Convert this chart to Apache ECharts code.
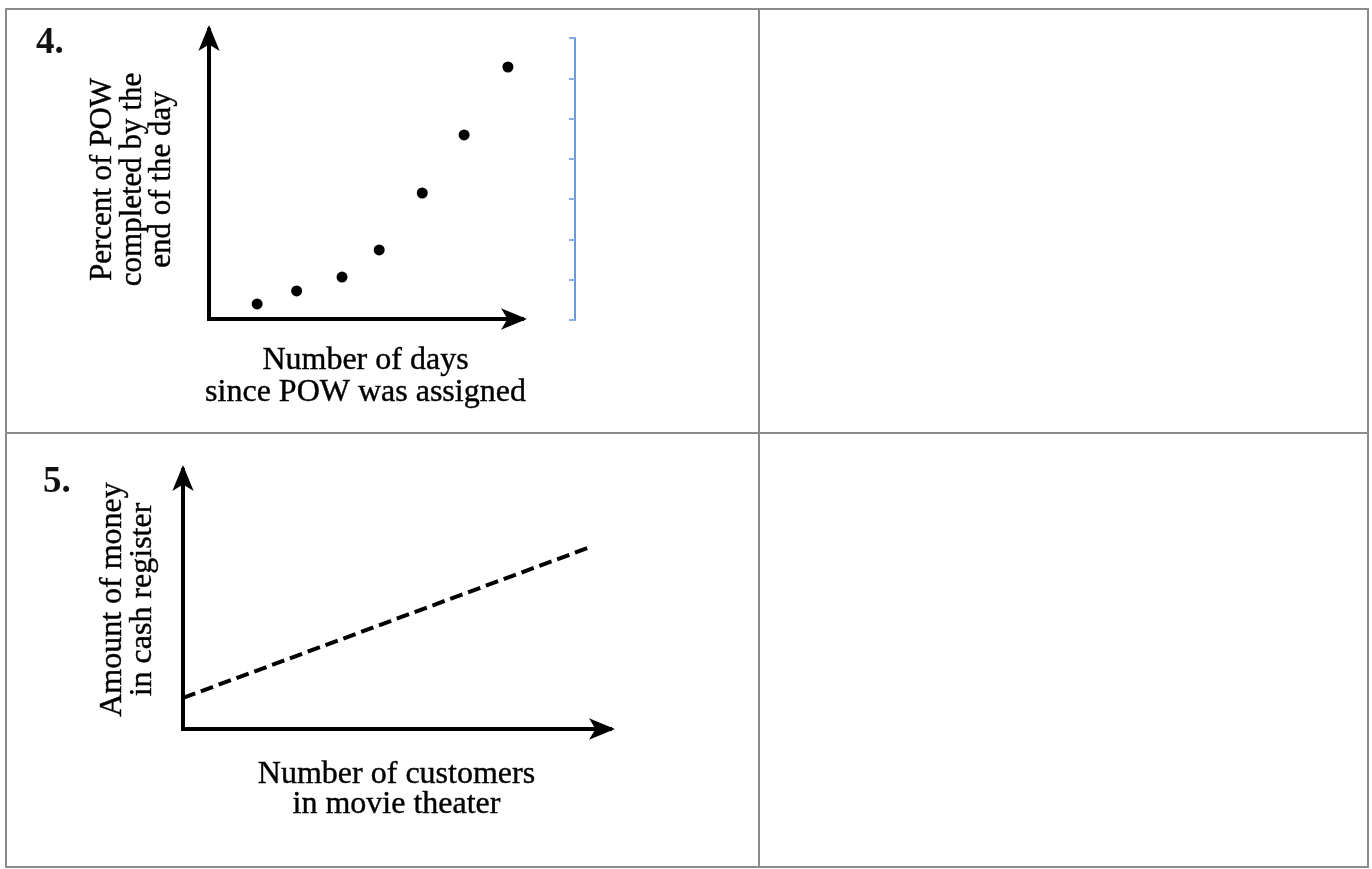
<!DOCTYPE html>
<html>
<head>
<meta charset="utf-8">
<script src="https://cdn.jsdelivr.net/npm/echarts@6/dist/echarts.min.js"></script>
<style>
html,body{margin:0;padding:0;background:#fff;}
#chart{width:1372px;height:869px;}
</style>
</head>
<body>
<div id="chart"></div>
<script>
// ---- Data ----
const problemLabels = ['4.', '5.'];
// Problem 4: days since POW assigned vs percent completed
const powDays = [1.23, 2.24, 3.40, 4.35, 5.45, 6.52, 7.64];
const powPercent = [5.2, 9.7, 14.5, 23.9, 43.6, 63.7, 87.2];
const powXName = 'Number of days\nsince POW was assigned';
const powYName = 'Percent of POW\ncompleted by the\nend of the day';
// Problem 5: customers vs money (dashed line)
const theaterCustomers = [0, 94.8];
const theaterMoney = [12.0, 69.9];
const theaterXName = 'Number of customers\nin movie theater';
const theaterYName = 'Amount of money\nin cash register';
// Blue bracket scale ticks
const bracketMin = 0, bracketMax = 7, bracketStep = 1;

const FONT = 'Liberation Serif';
const chart = echarts.init(document.getElementById('chart'), null, {renderer: 'canvas'});

function arrowAxisLine() {
  return {
    show: true,
    onZero: false,
    symbol: ['none', 'arrow'],
    symbolSize: [16, 26],
    symbolOffset: [0, 5],
    lineStyle: {color: '#000', width: 4, cap: 'square'}
  };
}
const nameStyle = {fontFamily: FONT, fontSize: 32, color: '#000', textBorderColor: '#000', textBorderWidth: 0.4};

const borderColor = '#8c8c8c';
function hLine(y, x1, x2) {
  return {type: 'line', shape: {x1: x1, y1: y, x2: x2, y2: y}, style: {stroke: borderColor, lineWidth: 2}, silent: true};
}
function vLine(x, y1, y2) {
  return {type: 'line', shape: {x1: x, y1: y1, x2: x, y2: y2}, style: {stroke: borderColor, lineWidth: 2}, silent: true};
}
const numStyle = {fontFamily: FONT, fontWeight: 'bold', fontSize: 37, color: '#111'};

const option = {
  backgroundColor: '#fff',
  animation: false,
  title: [
    {text: problemLabels[0], left: 31, top: 20, textStyle: numStyle},
    {text: problemLabels[1], left: 38, top: 459, textStyle: numStyle}
  ],
  graphic: [
    hLine(9, 5, 1369), hLine(433, 5, 1369), hLine(867, 5, 1369),
    vLine(6, 8, 868), vLine(759, 8, 868), vLine(1368, 8, 868)
  ],
  grid: [
    {left: 209, top: 30, width: 313, height: 289},
    {left: 183, top: 470, width: 427, height: 259},
    {left: 569, top: 38, width: 6, height: 282}
  ],
  xAxis: [
    {gridIndex: 0, type: 'value', min: 0, max: 8,
     axisLine: arrowAxisLine(), axisTick: {show: false}, axisLabel: {show: false}, splitLine: {show: false},
     name: powXName, nameLocation: 'middle', nameGap: 26, nameTextStyle: Object.assign({}, nameStyle, {lineHeight: 32})},
    {gridIndex: 1, type: 'value', min: 0, max: 100,
     axisLine: arrowAxisLine(), axisTick: {show: false}, axisLabel: {show: false}, splitLine: {show: false},
     name: theaterXName, nameLocation: 'middle', nameGap: 31, nameTextStyle: Object.assign({}, nameStyle, {lineHeight: 30})},
    {gridIndex: 2, type: 'value', min: 0, max: 1, show: false}
  ],
  yAxis: [
    {gridIndex: 0, type: 'value', min: 0, max: 100,
     axisLine: arrowAxisLine(), axisTick: {show: false}, axisLabel: {show: false}, splitLine: {show: false},
     name: powYName, nameLocation: 'middle', nameRotate: 90, nameGap: 32,
     nameTextStyle: Object.assign({}, nameStyle, {fontSize: 31, lineHeight: 29.5, padding: [0, 10, 0, 0]})},
    {gridIndex: 1, type: 'value', min: 0, max: 100,
     axisLine: arrowAxisLine(), axisTick: {show: false}, axisLabel: {show: false}, splitLine: {show: false},
     name: theaterYName, nameLocation: 'middle', nameRotate: 90, nameGap: 25,
     nameTextStyle: Object.assign({}, nameStyle, {fontSize: 32, lineHeight: 30})},
    {gridIndex: 2, type: 'value', position: 'right', min: bracketMin, max: bracketMax, interval: bracketStep,
     axisLine: {show: true, onZero: false, lineStyle: {color: '#6a9ad8', width: 2}},
     axisTick: {show: true, inside: true, length: 6, lineStyle: {color: '#8ab0e0', width: 2}},
     axisLabel: {show: false}, splitLine: {show: false}}
  ],
  series: [
    {type: 'scatter', xAxisIndex: 0, yAxisIndex: 0, symbol: 'circle', symbolSize: 11,
     itemStyle: {color: '#000', opacity: 1},
     data: powDays.map((d, i) => [d, powPercent[i]])},
    {type: 'line', xAxisIndex: 1, yAxisIndex: 1, symbol: 'none',
     lineStyle: {color: '#000', width: 4, type: [13, 6]},
     data: theaterCustomers.map((c, i) => [c, theaterMoney[i]])}
  ]
};
chart.setOption(option);
</script>
</body>
</html>
